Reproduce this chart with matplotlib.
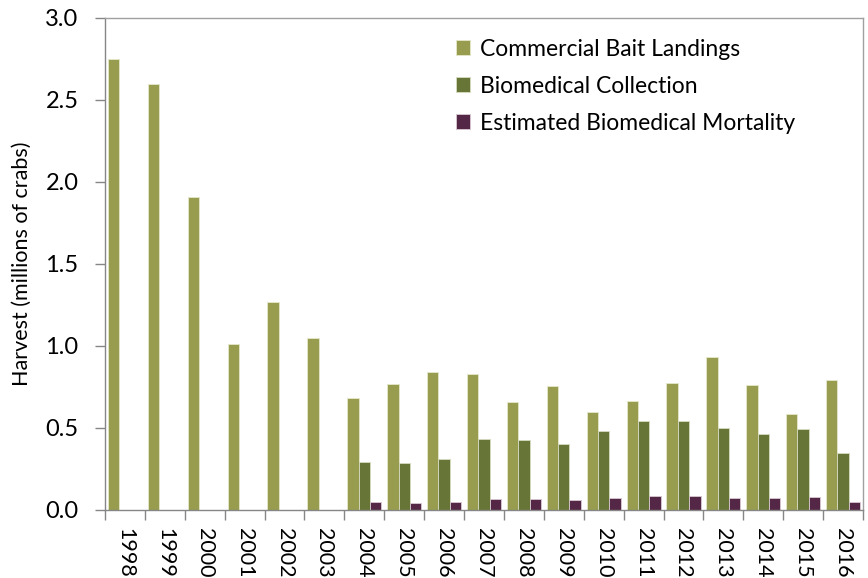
import numpy as np
import matplotlib.pyplot as plt

years = [str(y) for y in range(1998, 2017)]
commercial = [2.75, 2.60, 1.91, 1.01, 1.27, 1.05, 0.68, 0.77, 0.84, 0.83,
              0.66, 0.755, 0.60, 0.665, 0.775, 0.93, 0.76, 0.585, 0.79]
biomedical = [0, 0, 0, 0, 0, 0, 0.29, 0.285, 0.31, 0.43,
              0.425, 0.405, 0.48, 0.54, 0.54, 0.50, 0.465, 0.495, 0.345]
mortality = [0, 0, 0, 0, 0, 0, 0.05, 0.045, 0.05, 0.065,
             0.065, 0.06, 0.073, 0.085, 0.083, 0.073, 0.072, 0.078, 0.05]

plt.rcParams['font.family'] = ['Lato', 'DejaVu Sans']

fig = plt.figure(figsize=(8.68, 5.78), dpi=100)
ax = fig.add_axes([105 / 868, 1 - 510 / 578, 758 / 868, 492 / 578])

x = np.arange(len(years))
w = 0.285
ax.bar(x - w, commercial, w, color='#979c4f', edgecolor='#e6e8cc', linewidth=0.6,
       label='Commercial Bait Landings')
ax.bar(x, biomedical, w, color='#677536', edgecolor='#d7dcc0', linewidth=0.6,
       label='Biomedical Collection')
ax.bar(x + w, mortality, w, color='#542746', edgecolor='#d9c8d3', linewidth=0.6,
       label='Estimated Biomedical Mortality')

ax.set_xlim(-0.5, len(years) - 0.5)
ax.set_ylim(0, 3.0)
ax.set_yticks(np.arange(0, 3.01, 0.5))
ax.set_yticklabels([f'{v:.1f}' for v in np.arange(0, 3.01, 0.5)], fontsize=17)
ax.set_xticks(x)
ax.set_xticklabels(years, rotation=-90, fontsize=15.5)
ax.set_xticks(np.arange(-0.5, len(years), 1), minor=True)
ax.tick_params(axis='x', which='major', length=0, pad=13)
ax.tick_params(axis='x', which='minor', length=7, color='#868686', width=1)
ax.tick_params(axis='y', length=7, color='#868686', width=1, pad=12)
ax.set_ylabel('Harvest (millions of crabs)', fontsize=15.5, labelpad=10)

for s in ax.spines.values():
    s.set_color('#868686')
    s.set_linewidth(1)
ax.spines['top'].set_color('#a0a0a0')
ax.spines['right'].set_color('#a0a0a0')

ax.legend(loc='upper right', bbox_to_anchor=(0.938, 1.0), frameon=False, fontsize=16.5,
          handlelength=0.6, handleheight=0.6, handletextpad=0.45, labelspacing=0.7)

fig.savefig('out.png', dpi=100)
